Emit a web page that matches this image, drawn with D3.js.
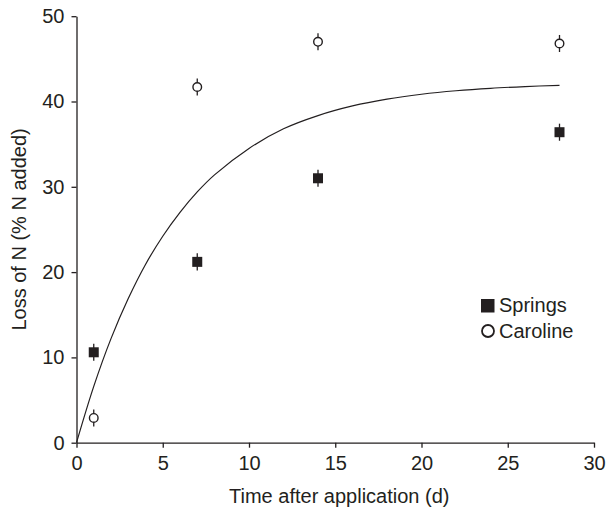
<!DOCTYPE html>
<html><head><meta charset="utf-8">
<script src="https://cdn.jsdelivr.net/npm/d3@7"></script>
<style>body{margin:0;background:#fff;} text{font-family:"Liberation Sans",Arial,sans-serif;fill:#231f20;}</style>
</head><body>
<svg id="c" width="609" height="510"></svg>
<script>
const days = [1, 7, 14, 28];
const springs = [10.6, 21.2, 31.0, 36.4];
const springsErr = [1.0, 1.0, 1.0, 1.0];
const caroline = [2.9, 41.7, 47.0, 46.8];
const carolineErr = [1.0, 1.0, 1.0, 1.0];
const fitT = [0,1,2,3,4,5,6,7,8,10,12,14,16,18,20,22,24,26,28];
const fitY = [0,6.6,12.2,16.9,20.9,24.2,27.0,29.4,31.4,34.5,36.8,38.35,39.48,40.28,40.85,41.26,41.55,41.75,41.9];
const xTicks = [0,5,10,15,20,25,30];
const yTicks = [0,10,20,30,40,50];
const legendLabels = ["Springs","Caroline"];

const svg = d3.select("#c");
const col = "#231f20";
const fs = "20px";
const x = d3.scaleLinear().domain([0,30]).range([76.5,594]);
const y = d3.scaleLinear().domain([0,50]).range([442.7,16.2]);

const xa = svg.append("g").attr("transform",`translate(0,${y(0)})`)
  .call(d3.axisBottom(x).tickValues(xTicks).tickSize(5).tickSizeOuter(0).tickPadding(8));
const ya = svg.append("g").attr("transform",`translate(${x(0)},0)`)
  .call(d3.axisLeft(y).tickValues(yTicks).tickSize(5).tickSizeOuter(0).tickPadding(7));
[xa,ya].forEach(a=>{
  a.selectAll("path,line").attr("stroke",col).attr("stroke-width",1.3);
  a.selectAll("text").style("font-size",fs).attr("fill",col).style("font-family","Liberation Sans, Arial, sans-serif");
});

// fit curve
svg.append("path").datum(fitT.map((t,i)=>[t,fitY[i]]))
  .attr("d", d3.line().x(d=>x(d[0])).y(d=>y(d[1])).curve(d3.curveCatmullRom))
  .attr("fill","none").attr("stroke",col).attr("stroke-width",1.2);

// error bars
function errs(vals, e){
  svg.append("g").selectAll("line").data(days).join("line")
    .attr("x1",d=>x(d)).attr("x2",d=>x(d))
    .attr("y1",(d,i)=>y(vals[i]-e[i])).attr("y2",(d,i)=>y(vals[i]+e[i]))
    .attr("stroke",col).attr("stroke-width",1.3);
}
errs(springs, springsErr);
errs(caroline, carolineErr);

svg.append("g").selectAll("rect").data(days).join("rect")
  .attr("x",d=>x(d)-5).attr("y",(d,i)=>y(springs[i])-5)
  .attr("width",10).attr("height",10).attr("fill",col);
svg.append("g").selectAll("circle").data(days).join("circle")
  .attr("cx",d=>x(d)).attr("cy",(d,i)=>y(caroline[i])).attr("r",4.3)
  .attr("fill","#fff").attr("stroke",col).attr("stroke-width",1.4);

// legend
svg.append("rect").attr("x",481).attr("y",299).attr("width",13.5).attr("height",13.5).attr("fill",col);
svg.append("circle").attr("cx",488).attr("cy",331).attr("r",6).attr("fill","#fff").attr("stroke",col).attr("stroke-width",1.8);
svg.append("text").attr("x",499).attr("y",312).style("font-size",fs).text(legendLabels[0]);
svg.append("text").attr("x",499).attr("y",338).style("font-size",fs).text(legendLabels[1]);

// axis titles
svg.append("text").attr("x",(x(0)+x(30))/2 + 4).attr("y",503).attr("text-anchor","middle")
  .style("font-size",fs).text("Time after application (d)");
svg.append("text").attr("transform",`translate(26,${y(25)}) rotate(-90)`).attr("text-anchor","middle")
  .style("font-size",fs).text("Loss of N (% N added)");
</script>
</body></html>
